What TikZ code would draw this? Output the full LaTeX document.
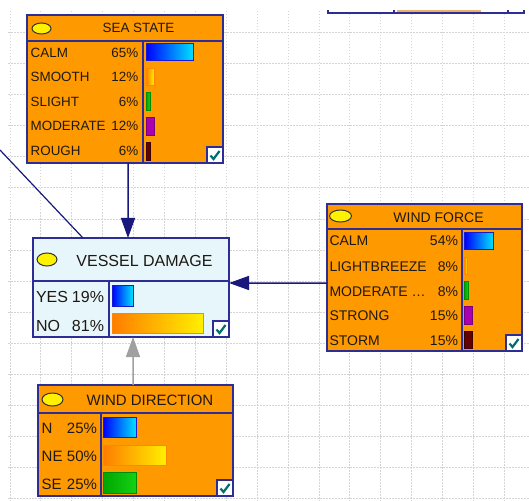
\documentclass[tikz,border=0pt]{standalone}
\usepackage{fontspec}
\setmainfont{Liberation Sans}
\usetikzlibrary{arrows.meta,shapes.geometric}
\definecolor{boxorange}{RGB}{255,153,0}
\definecolor{boxline}{RGB}{45,45,150}
\definecolor{edgenavy}{RGB}{25,25,125}
\definecolor{vdfill}{RGB}{230,246,250}
\definecolor{txtc}{RGB}{30,25,20}
\definecolor{gridc}{RGB}{212,212,212}
\definecolor{checkc}{RGB}{0,110,110}
\definecolor{grayarrow}{RGB}{160,160,160}
\definecolor{tanbar}{RGB}{232,178,100}
\newcommand\fSS{\fontsize{13.4bp}{16bp}\selectfont}
\newcommand\fVD{\fontsize{16bp}{19bp}\selectfont}
\newcommand\fWF{\fontsize{14bp}{17bp}\selectfont}
\newcommand\fWD{\fontsize{15bp}{18bp}\selectfont}
\begin{document}
\begin{tikzpicture}[x=1bp,y=-1bp,
  nodebox/.style={draw=boxline,line width=1.6bp,inner sep=0pt,outer sep=0pt,rectangle},
  divline/.style={draw=boxline,line width=1.6bp},
  gridline/.style={draw=gridc,line width=1bp,dash pattern=on 1.5bp off 1.5bp},
  lbl/.style={inner sep=0pt,outer sep=0pt,text=txtc},
  arr/.style={draw=edgenavy,line width=1.5bp,-{Triangle[length=20bp,width=14bp]}},
  grayarr/.style={draw=grayarrow,line width=1.5bp,-{Triangle[length=20bp,width=14bp]}},
  plainedge/.style={draw=edgenavy,line width=1.2bp},
  oval/.style={fill=yellow,draw=black!80,line width=1bp},
  barblue/.style={left color={rgb,255:red,0;green,0;blue,255},right color={rgb,255:red,0;green,225;blue,255},draw={rgb,255:red,25;green,25;blue,210},line width=1bp},
  barorange/.style={left color={rgb,255:red,255;green,125;blue,0},right color={rgb,255:red,255;green,240;blue,0},draw={rgb,255:red,255;green,135;blue,0},line width=1bp},
  bargreen/.style={left color={rgb,255:red,0;green,165;blue,0},right color={rgb,255:red,20;green,210;blue,20},draw={rgb,255:red,0;green,140;blue,0},line width=1bp},
  barpurple/.style={fill={rgb,255:red,170;green,0;blue,175},draw={rgb,255:red,120;green,0;blue,120},line width=1bp},
  barmaroon/.style={fill={rgb,255:red,100;green,0;blue,0},draw={rgb,255:red,60;green,0;blue,0},line width=1bp},
  chkbox/.pic={
    \draw[fill=white,draw=boxline,line width=1.4bp] (0,0) rectangle (16,16);
    \draw[checkc,line width=2.2bp] (3.5,8.5) -- (6.5,12) -- (12.5,4);
  }
]
\clip (0,0) rectangle (529,501);
\fill[white] (0,0) rectangle (529,501);
% grid
\begin{scope}
\clip (8,11) rectangle (529,501);
\foreach \i in {0,...,16} \draw[gridline] ({10+30.9*\i},11) -- ({10+30.9*\i},501);
\foreach \j in {1,...,16} \draw[gridline] (8,{2+31*\j}) -- (529,{2+31*\j});
\end{scope}

% partial box at top right (only its lower edge shows)
\fill[white] (328,0) rectangle (524,13);
\coordinate (tbl) at (328,10);
\coordinate (tbr) at (524,10);
\fill[tanbar] (397,10) rectangle (481,12);
\draw[divline] (tbl) -- (328,13) -- (524,13) -- (tbr);
\draw[divline] (394,10) -- (394,13);
\draw[divline] (508,10) -- (508,13);

% SEA STATE
\node[nodebox,fill=boxorange,minimum width=196bp,minimum height=148bp] (ss) at (125,89) {};
\draw[divline] (27,41) -- (223,41);
\draw[divline] (143,41) -- (143,163);
\draw[oval] (41.5,28.5) ellipse [x radius=9.5,y radius=5.5];
\node[lbl,font=\fSS,anchor=base] (sst) at (138.5,32.7) {SEA STATE};
\node[lbl,font=\fSS,anchor=base west] (ssl1) at (30.7,57.3) {CALM};
\node[lbl,font=\fSS,anchor=base west] (ssl2) at (30.7,82) {SMOOTH};
\node[lbl,font=\fSS,anchor=base west] (ssl3) at (30.7,106.5) {SLIGHT};
\node[lbl,font=\fSS,anchor=base west] (ssl4) at (30.7,131) {MODERATE};
\node[lbl,font=\fSS,anchor=base west] (ssl5) at (30.7,156) {ROUGH};
\node[lbl,font=\fSS,anchor=base east] (ssp1) at (138.3,57.3) {65\%};
\node[lbl,font=\fSS,anchor=base east] (ssp2) at (138.3,82) {12\%};
\node[lbl,font=\fSS,anchor=base east] (ssp3) at (138.3,106.5) {6\%};
\node[lbl,font=\fSS,anchor=base east] (ssp4) at (138.3,131) {12\%};
\node[lbl,font=\fSS,anchor=base east] (ssp5) at (138.3,156) {6\%};
\path[barblue] (146,44) rectangle (193,61);
\path[barorange] (146,68.5) rectangle (154,86);
\path[bargreen] (146,93) rectangle (150,111);
\path[barpurple] (146,117.5) rectangle (154,135.5);
\path[barmaroon] (146,143) rectangle (150,161);
\pic at (207,147) {chkbox};

% VESSEL DAMAGE
\node[nodebox,fill=vdfill,minimum width=196bp,minimum height=99bp] (vd) at (131,287.5) {};
\draw[divline] (33,281) -- (229,281);
\draw[divline] (109,281) -- (109,337);
\draw[oval] (47,259.5) ellipse [x radius=10,y radius=6.5];
\node[lbl,font=\fVD,anchor=base] (vdt) at (144.5,266) {VESSEL DAMAGE};
\node[lbl,font=\fVD,anchor=base west] (vdl1) at (36,302) {YES};
\node[lbl,font=\fVD,anchor=base west] (vdl2) at (36,331) {NO};
\node[lbl,font=\fVD,anchor=base east] (vdp1) at (104,302) {19\%};
\node[lbl,font=\fVD,anchor=base east] (vdp2) at (104,331) {81\%};
\path[barblue] (112,285) rectangle (133,306);
\path[barorange] (112,313) rectangle (203,333);
\pic at (213,321) {chkbox};

% WIND FORCE
\node[nodebox,fill=boxorange,minimum width=195bp,minimum height=147bp] (wf) at (424.5,277.5) {};
\draw[divline] (327,229) -- (522,229);
\draw[divline] (462,229) -- (462,351);
\draw[oval] (340.5,216) ellipse [x radius=11,y radius=6];
\node[lbl,font=\fWF,anchor=base] (wft) at (438.5,222) {WIND FORCE};
\node[lbl,font=\fWF,anchor=base west] (wfl1) at (329.5,245) {CALM};
\node[lbl,font=\fWF,anchor=base west] (wfl2) at (329.5,271.5) {LIGHTBREEZE};
\node[lbl,font=\fWF,anchor=base west] (wfl3) at (329.5,296.5) {MODERATE …};
\node[lbl,font=\fWF,anchor=base west] (wfl4) at (329.5,320) {STRONG};
\node[lbl,font=\fWF,anchor=base west] (wfl5) at (329.5,345) {STORM};
\node[lbl,font=\fWF,anchor=base east] (wfp1) at (458,245) {54\%};
\node[lbl,font=\fWF,anchor=base east] (wfp2) at (458,271.5) {8\%};
\node[lbl,font=\fWF,anchor=base east] (wfp3) at (458,296.5) {8\%};
\node[lbl,font=\fWF,anchor=base east] (wfp4) at (458,320) {15\%};
\node[lbl,font=\fWF,anchor=base east] (wfp5) at (458,345) {15\%};
\path[barblue] (464.5,232) rectangle (493,249);
\path[barorange] (464.5,257) rectangle (467,274);
\path[bargreen] (464.5,281) rectangle (468,299);
\path[barpurple] (464.5,306) rectangle (472,324);
\path[barmaroon] (464.5,331) rectangle (472,348);
\pic at (506,335) {chkbox};

% WIND DIRECTION
\node[nodebox,fill=boxorange,minimum width=195bp,minimum height=111bp] (wd) at (135.5,440.5) {};
\draw[divline] (38,413) -- (233,413);
\draw[divline] (101,413) -- (101,496);
\draw[oval] (52.5,399.5) ellipse [x radius=10.5,y radius=6.5];
\node[lbl,font=\fWD,anchor=base] (wdt) at (150,405) {WIND DIRECTION};
\node[lbl,font=\fWD,anchor=base west] (wdl1) at (41.7,433) {N};
\node[lbl,font=\fWD,anchor=base west] (wdl2) at (41.7,461) {NE};
\node[lbl,font=\fWD,anchor=base west] (wdl3) at (41.7,489) {SE};
\node[lbl,font=\fWD,anchor=base east] (wdp1) at (97,433) {25\%};
\node[lbl,font=\fWD,anchor=base east] (wdp2) at (97,461) {50\%};
\node[lbl,font=\fWD,anchor=base east] (wdp3) at (97,489) {25\%};
\path[barblue] (103,417) rectangle (136,437);
\path[barorange] (103,445) rectangle (166,465);
\path[bargreen] (103,472) rectangle (136,493);
\pic at (217,480) {chkbox};

% connectors
\coordinate (lfree) at (0,150);
\draw[plainedge] (lfree) -- ([xshift=50bp]vd.north west);
\draw[arr] ([xshift=3bp]ss.south) -- ([xshift=-3bp]vd.north);
\draw[arr] ([yshift=-5.5bp]wf.west) -- ([yshift=4.5bp]vd.east);
\draw[grayarr] ([xshift=-2.5bp]wd.north) -- ([xshift=2bp]vd.south);
\end{tikzpicture}
\end{document}
